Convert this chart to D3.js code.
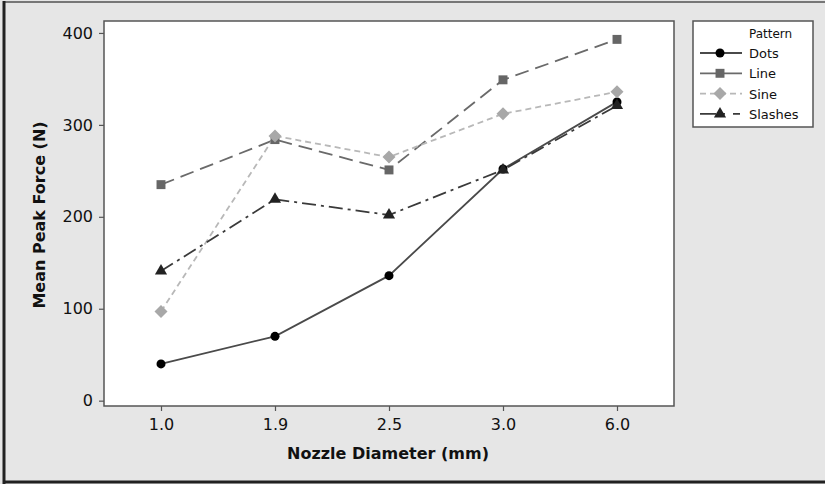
<!DOCTYPE html>
<html>
<head>
<meta charset="utf-8">
<script src="https://cdn.jsdelivr.net/npm/d3@7"></script>
<style>
  html, body { margin: 0; padding: 0; background: #e6e6e6; }
  svg { display: block; }
  text { font-family: "DejaVu Sans", Verdana, sans-serif; fill: #111; }
</style>
</head>
<body>
<svg id="chart" width="825" height="484"></svg>
<script>
// Nozzle diameters (categorical x axis)
const diameters = ["1.0", "1.9", "2.5", "3.0", "6.0"];
// Mean peak force (N) per pattern
const dots    = [40, 70, 136, 252, 325];
const line    = [235, 284, 251, 349, 393];
const sine    = [97, 288, 265, 312, 336];
const slashes = [141, 219, 202, 251, 321];
const yTicks  = [0, 100, 200, 300, 400];
const patternNames = ["Dots", "Line", "Sine", "Slashes"];

// a diamond drawn as a square turned by 45 degrees
const diamondSym = {
  draw(ctx, size) {
    const r = Math.sqrt(size / 2);
    ctx.moveTo(0, -r); ctx.lineTo(r, 0); ctx.lineTo(0, r); ctx.lineTo(-r, 0); ctx.closePath();
  }
};

const series = [
  { name: patternNames[0], values: dots,    stroke: "#4a4a4a", dash: null,          legendDash: null,               fill: "#000",    shape: d3.symbolCircle,   size: 64 },
  { name: patternNames[1], values: line,    stroke: "#6a6a6a", dash: "14,7",        legendDash: null,               fill: "#666",    shape: d3.symbolSquare,   size: 80 },
  { name: patternNames[2], values: sine,    stroke: "#b8b8b8", dash: "6,4",         legendDash: "6,4",              fill: "#a8a8a8", shape: diamondSym,        size: 85 },
  { name: patternNames[3], values: slashes, stroke: "#3a3a3a", dash: "14,5,3,5",    legendDash: "16,4,5,8,7,20",    fill: "#222",    shape: d3.symbolTriangle, size: 64 }
];

const svg = d3.select("#chart");
const W = 825, H = 484;

// outer frame
svg.append("rect").attr("x", 0).attr("y", 0).attr("width", W).attr("height", H).attr("fill", "#e6e6e6");
svg.append("line").attr("x1", 3).attr("x2", W).attr("y1", 2).attr("y2", 2).attr("stroke", "#777").attr("stroke-width", 2);
svg.append("line").attr("x1", 4).attr("x2", 4).attr("y1", 1).attr("y2", H).attr("stroke", "#222").attr("stroke-width", 3);
svg.append("line").attr("x1", 3).attr("x2", W).attr("y1", 482).attr("y2", 482).attr("stroke", "#222").attr("stroke-width", 3);

const plot = { left: 104, top: 21, right: 674, bottom: 406 };

const x = d3.scalePoint().domain(diameters).range([plot.left, plot.right]).padding(0.5);
const y = d3.scaleLinear().domain([-5.8, 413]).range([plot.bottom, plot.top]);

// plot background
svg.append("rect")
  .attr("x", plot.left).attr("y", plot.top)
  .attr("width", plot.right - plot.left).attr("height", plot.bottom - plot.top)
  .attr("fill", "#fff").attr("stroke", "#555").attr("stroke-width", 1.5);

// axes
const yAxis = svg.append("g").attr("transform", `translate(${plot.left},0)`)
  .call(d3.axisLeft(y).tickValues(yTicks).tickSize(5).tickPadding(6));
const xAxis = svg.append("g").attr("transform", `translate(0,${plot.bottom})`)
  .call(d3.axisBottom(x).tickSize(5).tickPadding(8));
[yAxis, xAxis].forEach(g => {
  g.select(".domain").remove();
  g.selectAll(".tick line").attr("stroke", "#555").attr("stroke-width", 1.2);
  g.selectAll(".tick text").attr("font-size", 16).attr("fill", "#000")
    .attr("font-family", "DejaVu Sans, Verdana, sans-serif");
});

// axis titles
svg.append("text")
  .attr("x", 388).attr("y", 459)
  .attr("text-anchor", "middle").attr("font-size", 16).attr("font-weight", "bold")
  .text("Nozzle Diameter (mm)");
svg.append("text")
  .attr("transform", `translate(45,215) rotate(-90)`)
  .attr("text-anchor", "middle").attr("font-size", 16).attr("font-weight", "bold")
  .text("Mean Peak Force (N)");

// series lines and markers
const lineGen = d3.line().x((d, i) => x(diameters[i])).y(d => y(d));
series.forEach(s => {
  svg.append("path")
    .datum(s.values)
    .attr("d", lineGen)
    .attr("fill", "none")
    .attr("stroke", s.stroke)
    .attr("stroke-width", 1.8)
    .attr("stroke-dasharray", s.dash);
});
series.forEach(s => {
  svg.selectAll(null)
    .data(s.values)
    .join("path")
    .attr("transform", (d, i) => `translate(${x(diameters[i])},${y(d)})`)
    .attr("d", d3.symbol().type(s.shape).size(s.size))
    .attr("fill", s.fill);
});

// legend
const lg = svg.append("g");
lg.append("rect").attr("x", 693).attr("y", 21).attr("width", 120).attr("height", 106)
  .attr("fill", "#fff").attr("stroke", "#555").attr("stroke-width", 1.5);
lg.append("text").attr("x", 749).attr("y", 38).attr("font-size", 12).text("Pattern");
series.forEach((s, i) => {
  const cy = 53 + i * 20.3;
  lg.append("line").attr("x1", 700).attr("x2", 742).attr("y1", cy).attr("y2", cy)
    .attr("stroke", s.stroke).attr("stroke-width", 1.8)
    .attr("stroke-dasharray", s.legendDash);
  lg.append("path").attr("transform", `translate(720,${cy})`)
    .attr("d", d3.symbol().type(s.shape).size(s.size))
    .attr("fill", s.fill);
  lg.append("text").attr("x", 749).attr("y", cy + 5).attr("font-size", 13).text(s.name);
});
</script>
</body>
</html>
